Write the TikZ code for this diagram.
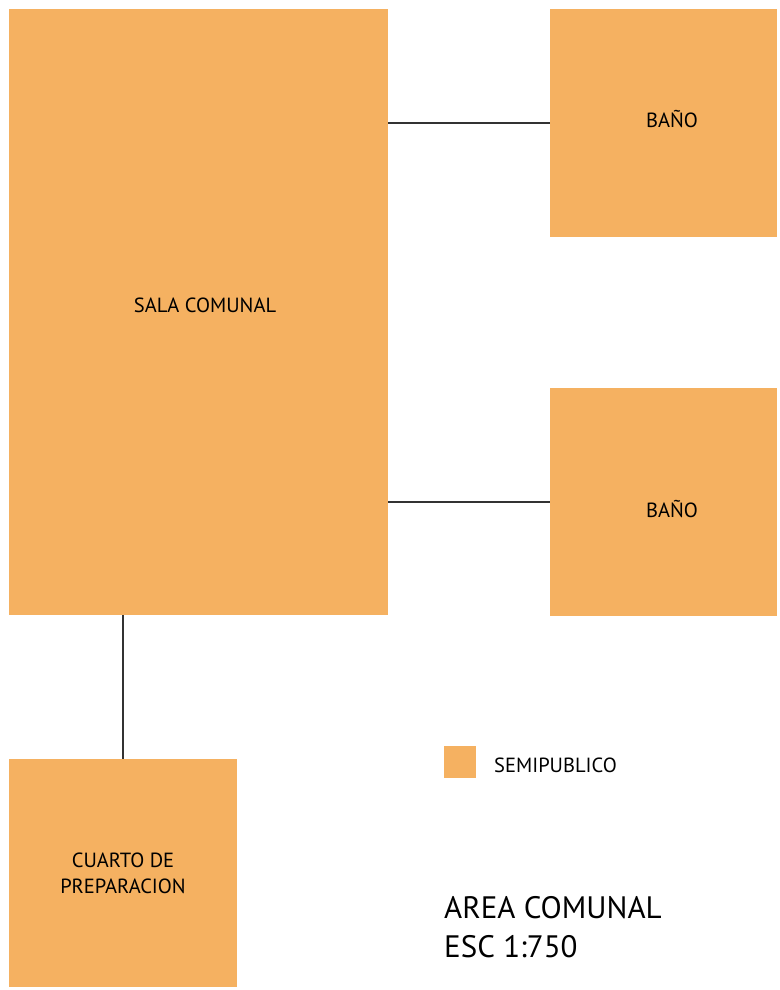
\documentclass[tikz,border=0pt]{standalone}
\usepackage{fontspec}
\setmainfont{PT Sans}
\usepackage{tikz}
\definecolor{semipub}{HTML}{F5B161}
\newcommand{\shifttxt}[2]{\raisebox{#1}[\height][\depth]{#2}}

\begin{document}
\begin{tikzpicture}[x=1pt, y=-1pt,
  room/.style={fill=semipub, draw=none, inner sep=0pt, align=center,
    font=\fontsize{20.5}{26}\selectfont},
  link/.style={draw=black!80, line width=1.3pt}]
 \useasboundingbox (0,0) rectangle (779,990);

 % Rooms
  \node[room, minimum width=379pt, minimum height=606pt] (sala) at (198.5,312) {\hspace*{13pt}\shifttxt{7pt}{SALA COMUNAL}};
  \node[room, minimum width=227pt, minimum height=228pt] (bano1) at (663.5,123) {\hspace*{17pt}\shifttxt{4pt}{BAÑO}};
  \node[room, minimum width=227pt, minimum height=228pt] (bano2) at (663.5,502) {\hspace*{17pt}\shifttxt{-7pt}{BAÑO}};
  \node[room, minimum width=228pt, minimum height=228pt] (cuarto) at (123,873) {CUARTO DE\\PREPARACION};

  % Legend
  \node[fill=semipub, minimum size=32pt, inner sep=0pt] (key) at (460,762) {};
  \node[anchor=base west, inner sep=0pt, font=\fontsize{20.5}{26}\selectfont] (keytxt) at (494,772) {SEMIPUBLICO};

  % Title
  \node[anchor=base west, align=left, inner sep=0pt,
    font=\fontsize{31}{39}\selectfont] (title) at (444,957) {AREA COMUNAL\\ESC 1:750};

  % Links
  \draw[link] (bano1.west) -- (bano1.west -| sala.east);
  \draw[link] (bano2.west) -- (bano2.west -| sala.east);
  \draw[link] (cuarto.north) -- (cuarto.north |- sala.south);
\end{tikzpicture}
\end{document}
